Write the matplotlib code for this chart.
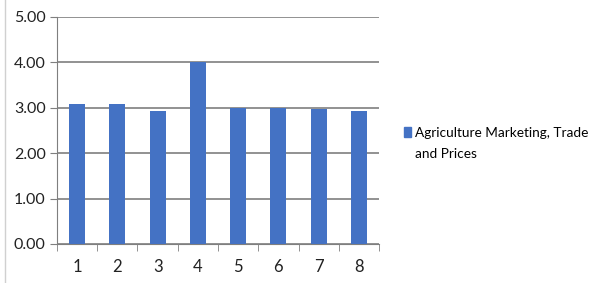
import matplotlib
matplotlib.use("Agg")
import matplotlib.pyplot as plt
from matplotlib.lines import Line2D
from matplotlib.patches import Patch

categories = ["1", "2", "3", "4", "5", "6", "7", "8"]
values = [3.08, 3.08, 2.92, 4.00, 3.00, 3.00, 2.98, 2.92]
series_name = "Agriculture Marketing, Trade\nand Prices"
y_ticks = [0, 1, 2, 3, 4, 5]

BAR = "#4472C4"
GRID = "#7f7f7f"

plt.rcParams["font.family"] = ["Lato", "DejaVu Sans"]

fig = plt.figure(figsize=(5.91, 2.83), dpi=100)
ax = fig.add_axes([0.0964, 0.138, 0.545, 0.802])

x = range(len(categories))
ax.bar(x, values, width=0.4, color=BAR, zorder=3)

ax.set_xlim(-0.5, len(categories) - 0.5)
ax.set_ylim(0, 5)
ax.set_yticks(y_ticks)
ax.set_yticklabels([f"{v:.2f}" for v in y_ticks], fontsize=11.5, color="#222222")
ax.set_xticks(list(x))
ax.set_xticklabels(categories, fontsize=12, color="#222222")
ax.tick_params(axis="x", length=0, pad=11)
ax.tick_params(axis="y", length=5, color=GRID, pad=3)

# tick marks between categories, as in a spreadsheet chart
ax.set_xticks([i - 0.5 for i in range(len(categories) + 1)], minor=True)
ax.tick_params(axis="x", which="minor", length=5, color=GRID, direction="out")

ax.yaxis.grid(True, color=GRID, linewidth=1.2, zorder=0)
for side in ("top", "right"):
    ax.spines[side].set_visible(False)
ax.spines["left"].set_color(GRID)
ax.spines["bottom"].set_color(GRID)

handles = [Patch(facecolor=BAR, edgecolor=BAR)]
leg = fig.legend(handles, [series_name], loc="upper left", bbox_to_anchor=(0.675, 0.572),
                 frameon=False, fontsize=9.8, handlelength=0.5, handleheight=0.7,
                 handletextpad=0.3, borderaxespad=0)
for t in leg.get_texts():
    t.set_linespacing(1.95)
# Excel puts the key square beside the first line, not the middle of the block
key = leg.legend_handles[0]
key.set_y(key.get_y() + 8.5)

# faint spreadsheet gridline at the far left
fig.add_artist(Line2D([0.009, 0.009], [0, 1], color="#d0d0d0", linewidth=1))

fig.savefig("out.png", dpi=100)
